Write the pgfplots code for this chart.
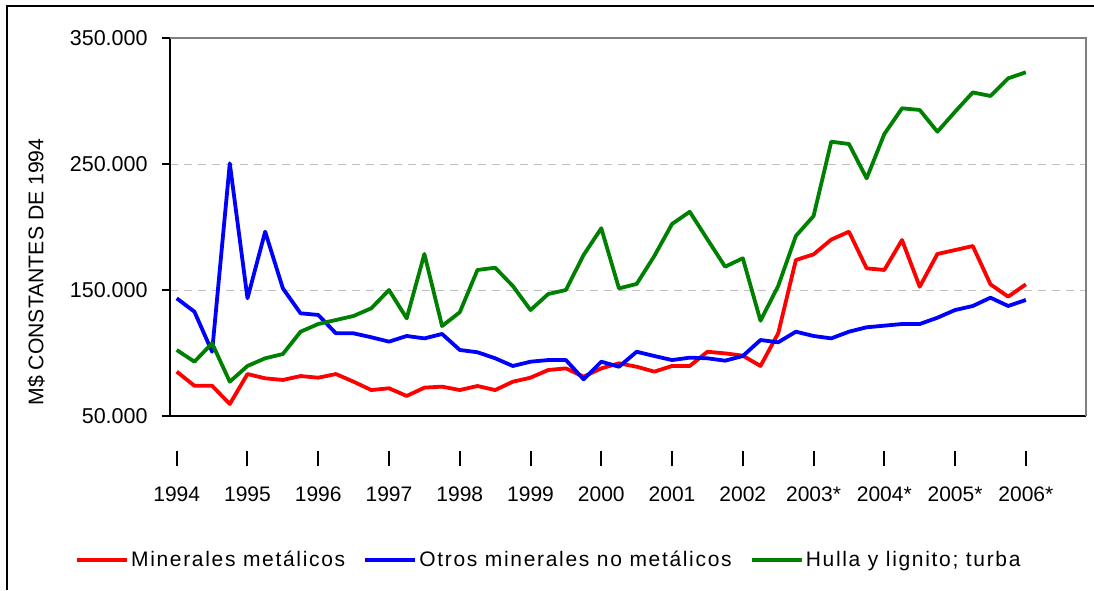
\documentclass[border=0pt]{standalone}
\usepackage{pgfplots}
\usepackage{pgfplotstable}
\pgfplotsset{compat=1.18}
\usepackage{fontspec}
\setmainfont{Liberation Sans}
\newfontfamily\legfont[LetterSpace=8]{Liberation Sans}
\definecolor{xlred}{RGB}{255,0,0}
\definecolor{xlblue}{RGB}{0,0,255}
\definecolor{xlgreen}{RGB}{0,128,0}
\definecolor{gridgray}{RGB}{192,192,192}
\definecolor{boxgray}{RGB}{128,128,128}
\newcommand{\yl}[1]{\vbox{\offinterlineskip\hbox to 0pt{\hss\rule{1pt}{7.5pt}\hss}\vskip 10pt\hbox to 0pt{\hss #1\hss}}}
\pgfplotstableread{
i red blue green
0 85.2 143.4 102.4
1 74.0 132.8 93.1
2 74.0 101.0 107.7
3 59.5 250.5 77.2
4 83.3 143.4 89.7
5 79.9 196.3 95.8
6 78.6 151.3 99.2
7 81.7 131.5 116.9
8 80.4 130.2 123.0
9 83.3 115.6 126.2
10 77.2 115.6 129.4
11 70.6 112.5 135.5
12 72.0 109.0 150.0
13 65.9 113.5 127.5
14 72.5 111.6 178.6
15 73.3 115.1 121.4
16 70.6 102.4 132.3
17 73.8 100.6 165.9
18 70.6 95.8 167.7
19 77.2 89.7 153.2
20 80.4 93.1 134.1
21 86.5 94.4 146.8
22 87.8 94.4 150.0
23 81.2 79.1 177.8
24 87.8 93.1 199.0
25 91.8 89.1 151.3
26 89.1 101.0 154.8
27 85.2 97.6 177.0
28 89.7 94.4 202.4
29 89.7 96.3 212.1
30 101.0 95.8 190.2
31 99.7 93.9 168.5
32 97.9 97.6 175.2
33 89.7 110.3 125.6
34 115.6 108.5 153.2
35 173.8 116.9 192.9
36 178.3 113.5 208.7
37 190.0 111.6 267.7
38 196.3 116.9 265.9
39 167.2 120.4 238.6
40 165.9 121.7 273.8
41 189.7 123.0 294.2
42 152.6 123.0 292.9
43 178.6 128.0 275.6
44 181.7 134.1 291.5
45 184.9 137.3 306.8
46 154.5 143.9 304.0
47 144.7 137.3 318.0
48 154.5 142.1 322.8
}\data
\begin{document}
\begin{tikzpicture}
\useasboundingbox (0pt,0pt) rectangle (547pt,295pt);
\draw[black, line width=0.6pt] (3.5pt,0pt) -- (3.5pt,292pt) -- (547pt,292pt);
\begin{axis}[
  at={(85pt,87pt)}, anchor=south west,
  scale only axis, width=458pt, height=189pt,
  xmin=-0.38, xmax=51.4, ymin=50, ymax=350,
  axis lines=left,
  axis line style={-, black, line width=0.9pt},
  clip=false,
  tick align=outside,
  major tick length=4pt,
  xtick={0,4,...,48},
  xticklabels={\yl{1994},\yl{1995},\yl{1996},\yl{1997},\yl{1998},\yl{1999},\yl{2000},\yl{2001},\yl{2002},\yl{2003*},\yl{2004*},\yl{2005*},\yl{2006*}},
  xtick style={draw=none},
  xticklabel style={anchor=north, inner sep=0pt, yshift=-13.5pt, font=\fontsize{10.5}{12}\selectfont},
  ytick={50,150,250,350},
  yticklabels={50.000,150.000,250.000,350.000},
  ytick style={black, line width=0.6pt},
  yticklabel style={inner sep=0pt, xshift=-7pt, font=\fontsize{10.75}{12}\selectfont},
  ymajorgrids,
  grid style={gridgray, line width=0.5pt, dash pattern=on 4pt off 3pt},
  ylabel={M\$ CONSTANTES DE 1994},
  ylabel style={at={(rel axis cs:-0.146,0.381)}, anchor=center, font=\fontsize{10.6}{12}\selectfont},
  legend columns=3,
  legend style={at={(rel axis cs:0.414,-0.381)}, anchor=center, draw=none, fill=none,
    font=\legfont\fontsize{10.5}{12}\selectfont,
    /tikz/every even column/.append style={column sep=8pt},
    nodes={inner sep=1.25pt}},
  legend image code/.code={\draw[#1, line width=1.6pt] (0pt,0pt) -- (25pt,0pt);},
]
\draw[boxgray, line width=1pt] (rel axis cs:0,1) -- (rel axis cs:1,1) -- (rel axis cs:1,0);
\addplot[xlred, line width=1.9pt, line join=round] table[x=i,y=red]{\data};
\addlegendentry{Minerales metálicos}
\addplot[xlblue, line width=1.9pt, line join=round] table[x=i,y=blue]{\data};
\addlegendentry{Otros minerales no metálicos}
\addplot[xlgreen, line width=1.9pt, line join=round] table[x=i,y=green]{\data};
\addlegendentry{Hulla y lignito; turba}
\end{axis}
\end{tikzpicture}
\end{document}
